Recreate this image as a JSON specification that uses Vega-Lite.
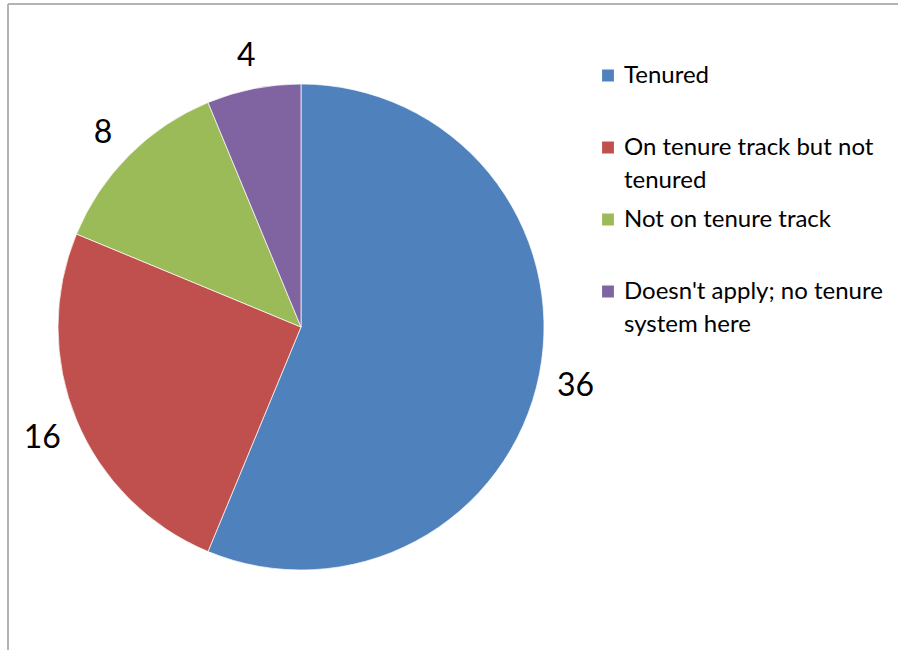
{
  "$schema": "https://vega.github.io/schema/vega-lite/v6.json",
  "width": 586,
  "height": 646,
  "autosize": {"type": "none"},
  "padding": {"left": 8, "top": 4, "right": 304, "bottom": 0},
  "background": "white",
  "config": {
    "view": {"stroke": null},
    "font": "Lato",
    "style": {"guide-label": {"lineHeight": 33}}
  },
  "data": {
    "values": [
      {"category": "Tenured", "count": 36},
      {"category": "On tenure track but not tenured", "count": 16},
      {"category": "Not on tenure track", "count": 8},
      {"category": "Doesn't apply; no tenure system here", "count": 4}
    ]
  },
  "layer": [
    {
      "mark": {"type": "rule", "color": "#b4b4b4", "strokeWidth": 1.5},
      "encoding": {
        "x": {"datum": 0, "type": "quantitative", "scale": {"domain": [0, 1]}, "axis": null}
      }
    },
    {
      "mark": {"type": "rule", "color": "#b4b4b4", "strokeWidth": 1.5, "clip": false},
      "encoding": {
        "x": {"datum": 0, "type": "quantitative", "scale": {"domain": [0, 1]}, "axis": null},
        "x2": {"datum": 1.52},
        "y": {"datum": 1, "type": "quantitative", "scale": {"domain": [0, 1]}, "axis": null}
      }
    },
    {
      "mark": {"type": "arc", "outerRadius": 243, "stroke": "white", "strokeWidth": 0.7},
      "encoding": {
        "theta": {"field": "count", "type": "quantitative", "stack": true},
        "order": {"field": "count", "sort": "descending"},
        "color": {
          "field": "category",
          "type": "nominal",
          "scale": {
            "domain": ["Tenured", "On tenure track but not tenured", "Not on tenure track", "Doesn't apply; no tenure system here"],
            "range": ["#4F81BD", "#C0504D", "#9BBB59", "#8064A2"]
          },
          "legend": {
            "orient": "none",
            "legendX": 588,
            "legendY": 45,
            "title": null,
            "symbolType": "square",
            "symbolSize": 140,
            "symbolStrokeWidth": 0,
            "labelFontSize": 24,
            "labelFont": "Lato",
            "labelColor": "black",
            "labelLimit": 300,
            "labelOffset": 4,
            "clipHeight": 53,
            "rowPadding": 0,
            "labelExpr": "datum.label == 'On tenure track but not tenured' ? ['On tenure track but not', 'tenured'] : datum.label == \"Doesn't apply; no tenure system here\" ? [\"Doesn't apply; no tenure\", 'system here'] : [datum.label, ' ']"
          }
        }
      }
    },
    {
      "mark": {"type": "text", "radius": 280, "fontSize": 32, "font": "Lato", "color": "black", "dy": 4},
      "encoding": {
        "theta": {"field": "count", "type": "quantitative", "stack": true},
        "order": {"field": "count", "sort": "descending"},
        "text": {"field": "count", "type": "quantitative"}
      }
    }
  ]
}
